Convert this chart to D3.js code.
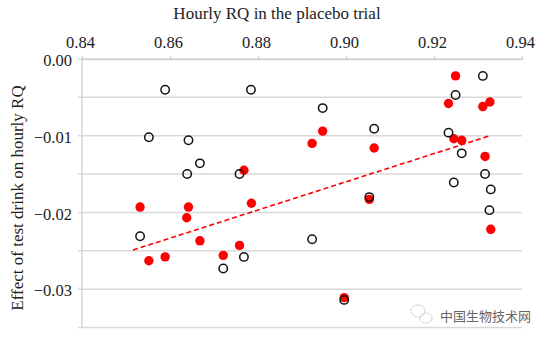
<!DOCTYPE html>
<html><head><meta charset="utf-8">
<script src="https://cdn.jsdelivr.net/npm/d3@7"></script>
<style>body{margin:0;background:#fff}svg{display:block}</style>
</head><body><svg id="c" width="548" height="343"></svg>
<script>
// Open circles
const openX = [0.8589,0.8784,0.8552,0.8642,0.8668,0.8639,0.8758,0.8532,0.8923,0.8768,0.8721,0.8947,0.9064,0.9053,0.8996,0.9249,0.9311,0.9233,0.9263,0.9245,0.9316,0.9329,0.9326];
const openY = [-0.0040,-0.0040,-0.0102,-0.0106,-0.0136,-0.0150,-0.0150,-0.0231,-0.0235,-0.0258,-0.0273,-0.0064,-0.0091,-0.0180,-0.0314,-0.0047,-0.0022,-0.0096,-0.0123,-0.0161,-0.0150,-0.0170,-0.0197];
// Filled red circles
const redX = [0.8947,0.8923,0.8768,0.8532,0.8642,0.8638,0.8785,0.8668,0.8758,0.8721,0.8589,0.8552,0.9064,0.9053,0.8996,0.9249,0.9233,0.9245,0.9263,0.9311,0.9327,0.9316,0.9329];
const redY = [-0.0094,-0.0110,-0.0145,-0.0193,-0.0193,-0.0207,-0.0188,-0.0237,-0.0243,-0.0256,-0.0258,-0.0263,-0.0116,-0.0183,-0.0311,-0.0022,-0.0058,-0.0104,-0.0106,-0.0062,-0.0056,-0.0127,-0.0222];
// Trend line endpoints
const trendX = [0.8516, 0.9327];
const trendY = [-0.0249, -0.0100];
const xTicks = [0.84,0.86,0.88,0.90,0.92,0.94];
const yTicks = [0,-0.01,-0.02,-0.03];
const yGrid = [0,-0.005,-0.01,-0.015,-0.02,-0.025,-0.03,-0.035];

const svg = d3.select("#c");
const font = "Liberation Serif, Times New Roman, serif";
const x = d3.scaleLinear().domain([0.84,0.94]).range([82,522]);
const y = d3.scaleLinear().domain([0,-0.035]).range([59,327.5]);

svg.append("g").selectAll("line").data(yGrid).join("line")
  .attr("x1",78).attr("x2",522).attr("y1",d=>y(d)).attr("y2",d=>y(d))
  .attr("stroke","#d9d9d9").attr("stroke-width",1.5);
svg.append("line").attr("x1",82).attr("x2",82).attr("y1",y(0)).attr("y2",y(-0.035))
  .attr("stroke","#d0d0d0").attr("stroke-width",1.3);

const topAxis = svg.append("g").attr("transform",`translate(0,${y(0)})`)
  .call(d3.axisTop(x).tickValues(xTicks).tickFormat(d3.format(".2f")).tickSize(3).tickPadding(8));
topAxis.attr("font-family",font).attr("font-size",16.5);
topAxis.select(".domain").attr("stroke","#d0d0d0").attr("stroke-width",1.3);
topAxis.selectAll(".tick line").attr("stroke","#d0d0d0");
topAxis.selectAll(".tick text").style("font-family",font).style("font-size","16.5px").attr("fill","#222").attr("dx",-2);

const leftAxis = svg.append("g").attr("transform","translate(82,0)")
  .call(d3.axisLeft(y).tickValues(yTicks).tickFormat(d3.format(".2f")).tickSize(0).tickPadding(10));
leftAxis.attr("font-family",font).attr("font-size",16.5);
leftAxis.select(".domain").remove();
leftAxis.selectAll(".tick text").style("font-family",font).style("font-size","16.5px").attr("fill","#222").attr("dy","0.4em");

svg.append("line")
  .attr("x1",x(trendX[0])).attr("y1",y(trendY[0]))
  .attr("x2",x(trendX[1])).attr("y2",y(trendY[1]))
  .attr("stroke","#ff0000").attr("stroke-width",1.6).attr("stroke-dasharray","5,3");

svg.append("g").selectAll("circle").data(redX.map((v,i)=>[v,redY[i]])).join("circle")
  .attr("cx",d=>x(d[0])).attr("cy",d=>y(d[1])).attr("r",4.7).attr("fill","#ff0000");
svg.append("g").selectAll("circle").data(openX.map((v,i)=>[v,openY[i]])).join("circle")
  .attr("cx",d=>x(d[0])).attr("cy",d=>y(d[1])).attr("r",4.2)
  .attr("fill","none").attr("stroke","#111").attr("stroke-width",1.5);

svg.append("text").attr("x",277).attr("y",19).attr("text-anchor","middle")
  .style("font-family",font).style("font-size","17px").attr("fill","#222").text("Hourly RQ in the placebo trial");
svg.append("text").attr("transform","translate(23,198) rotate(-90)").attr("text-anchor","middle")
  .style("font-family",font).style("font-size","17px").attr("fill","#222").text("Effect of test drink on hourly RQ");

const wm = svg.append("g").attr("fill","none").attr("stroke","#bbb").attr("stroke-width",1).attr("stroke-dasharray","1.5,1");
wm.append("ellipse").attr("cx",418).attr("cy",311).attr("rx",7).attr("ry",6);
wm.append("ellipse").attr("cx",426).attr("cy",318).attr("rx",6).attr("ry",5);
svg.append("text").attr("x",440).attr("y",321).style("font-family","Noto Sans CJK SC, sans-serif")
  .style("font-size","13px").attr("fill","#666").text("中国生物技术网");
</script></body></html>
